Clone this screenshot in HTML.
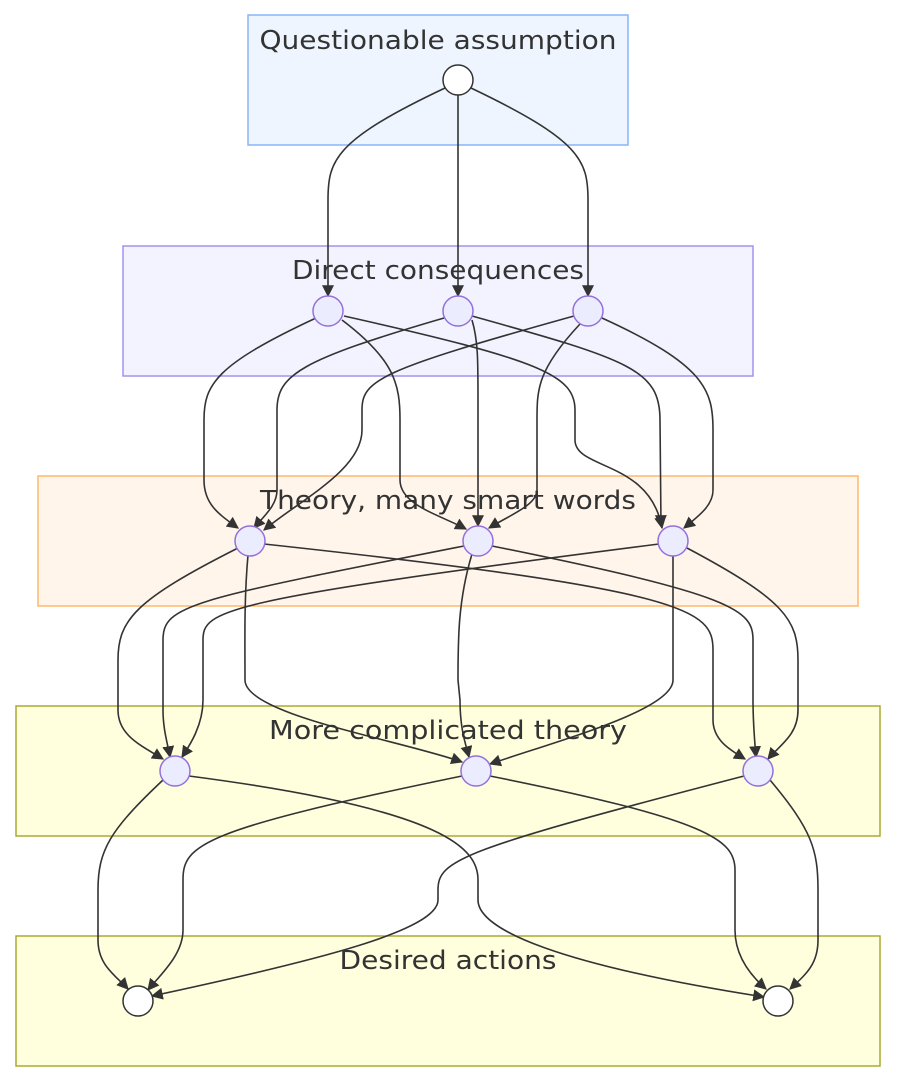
<!DOCTYPE html>
<html><head><meta charset="utf-8"><style>html,body{margin:0;padding:0;background:#fff}svg{display:block}</style></head>
<body>
<svg width="897" height="1082" viewBox="0 0 897 1082" xmlns="http://www.w3.org/2000/svg">
<defs>
<marker id="a" viewBox="0 0 10 10" refX="9" refY="5" markerWidth="12" markerHeight="12" markerUnits="userSpaceOnUse" orient="auto"><path d="M0,0 L10,5 L0,10 z" fill="#333"/></marker>
</defs>
<g stroke-width="1.5">
<rect x="248" y="15" width="380" height="130" fill="#eef5ff" stroke="#8ab4f8"/>
<rect x="123" y="246" width="630" height="130" fill="#f3f3ff" stroke="#a094ef"/>
<rect x="38" y="476" width="820" height="130" fill="#fff5eb" stroke="#ffb96b"/>
<rect x="16" y="706" width="864" height="130" fill="#ffffde" stroke="#aaaa33"/>
<rect x="16" y="936" width="864" height="130" fill="#ffffde" stroke="#aaaa33"/>
</g>
<g font-family="'DejaVu Sans',sans-serif" font-size="26" fill="#333" text-anchor="middle">
<text x="438" y="49" textLength="357" lengthAdjust="spacingAndGlyphs">Questionable assumption</text>
<text x="438" y="279" textLength="292" lengthAdjust="spacingAndGlyphs">Direct consequences</text>
<text x="448" y="509" textLength="376" lengthAdjust="spacingAndGlyphs">Theory, many smart words</text>
<text x="448" y="739" textLength="358" lengthAdjust="spacingAndGlyphs">More complicated theory</text>
<text x="448" y="969" textLength="217" lengthAdjust="spacingAndGlyphs">Desired actions</text>
</g>
<g fill="none" stroke="#333" stroke-width="1.6" marker-end="url(#a)">
<path d="M445,88 C335,140 328,160 328,200 L328,296"/>
<path d="M458,95 L458,296"/>
<path d="M471,88 C580,140 588,160 588,200 L588,296"/>

<path d="M316,318 C215,365 204,385 204,420 L204,480 C204,505 220,515 238,528"/>
<path d="M342,320 C395,360 400,385 400,420 L400,480 C400,505 440,515 466,529"/>
<path d="M344,316 C540,360 575,375 575,410 L575,440 C575,470 650,460 662,528"/>
<path d="M444,318 C300,360 277,375 277,410 L277,490 C277,505 265,515 254,528"/>
<path d="M472,320 C478,340 478,360 478,400 L478,526"/>
<path d="M472,316 C630,360 660,370 660,420 L661,526"/>
<path d="M574,316 C380,370 362,380 362,410 L362,430 C362,470 300,500 264,530"/>
<path d="M580,324 C537,370 537,390 537,420 L537,490 C537,505 510,515 489,528"/>
<path d="M602,318 C705,365 713,390 713,430 L713,490 C713,505 700,515 684,528"/>

<path d="M238,548 C135,600 118,620 118,660 L118,710 C118,735 140,745 163,759"/>
<path d="M464,546 C190,600 163,605 163,640 L163,710 C163,730 168,745 170,757"/>
<path d="M659,544 C220,600 203,610 203,640 L203,700 C203,725 190,745 182,757"/>
<path d="M248,555 C244,600 245,640 245,680 C245,715 400,740 462,762"/>
<path d="M472,554 C458,600 458,640 458,680 L460,700 C460,730 466,745 469,757"/>
<path d="M673,556 L673,680 C673,710 560,740 490,764"/>
<path d="M264,544 C690,590 713,610 713,650 L713,720 C713,740 730,750 745,759"/>
<path d="M492,546 C735,595 753,610 753,640 L753,700 C753,725 755,745 756,757"/>
<path d="M687,548 C785,600 798,620 798,660 L798,710 C798,735 780,745 768,759"/>

<path d="M163,780 C110,830 98,850 98,890 L98,940 C98,965 115,975 128,989"/>
<path d="M462,776 C200,830 183,845 183,880 L183,930 C183,955 160,975 148,990"/>
<path d="M744,776 C460,850 438,860 438,890 L438,900 C438,930 320,960 152,996"/>
<path d="M189,776 C450,810 478,850 478,880 L478,900 C478,930 560,965 764,997"/>
<path d="M490,776 C710,820 735,840 735,870 L735,930 C735,955 750,975 766,989"/>
<path d="M770,780 C812,830 818,850 818,890 L818,940 C818,965 805,975 790,989"/>
</g>
<g stroke-width="1.5">
<circle cx="458" cy="80" r="15" fill="#fff" stroke="#333"/>
<g fill="#ececff" stroke="#9370db">
<circle cx="328" cy="311" r="15"/><circle cx="458" cy="311" r="15"/><circle cx="588" cy="311" r="15"/>
<circle cx="250" cy="541" r="15"/><circle cx="478" cy="541" r="15"/><circle cx="673" cy="541" r="15"/>
<circle cx="175" cy="771" r="15"/><circle cx="476" cy="771" r="15"/><circle cx="758" cy="771" r="15"/>
</g>
<circle cx="138" cy="1001" r="15" fill="#fff" stroke="#333"/>
<circle cx="778" cy="1001" r="15" fill="#fff" stroke="#333"/>
</g>
</svg>
</body></html>
